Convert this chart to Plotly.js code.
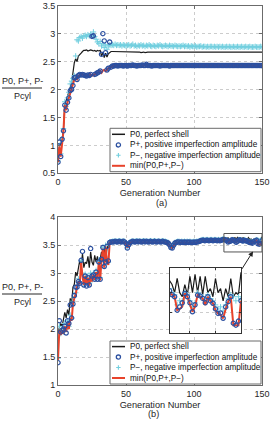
<!DOCTYPE html>
<html><head><meta charset="utf-8">
<script src="https://cdn.plot.ly/plotly-3.0.1.min.js"></script>
<style>html,body{margin:0;padding:0;background:#fff}#chart{width:271px;height:423px}</style>
</head><body><div id="chart"></div>
<script>
const generations = Array.from({length:151}, (_, i) => i);
const xTicks = [0, 50, 100, 150];
const yTicksA = [0.5, 1, 1.5, 2, 2.5, 3, 3.5];
const yTicksB = [1, 1.5, 2, 2.5, 3, 3.5, 4];
const seriesNames = ['P0, perfect shell', 'P+, positive imperfection amplitude', 'P\u2212, negative imperfection amplitude', 'min(P0,P+,P\u2212)'];
const panelLabels = ['(a)', '(b)'];
const xTitle = 'Generation Number';
const yLabelTop = 'P0, P+, P-';
const yLabelBottom = 'Pcyl';

// ---------- panel (a) ----------
const p0A = [
0.72,0.98,1.02,1.10,1.28,1.72,1.80,1.88,1.95,2.05,
2.12,2.30,2.48,2.55,2.50,2.60,2.62,2.65,2.68,2.70,
2.70,2.71,2.69,2.70,2.71,2.70,2.69,2.70,2.68,2.70,
2.69,2.70,2.60,2.66,2.57,2.65,2.58,2.64,2.67,2.68,
2.68,2.68,2.68,2.68,2.68,2.67,2.68,2.68,2.68,2.68,
2.68,2.68,2.68,2.68,2.68,2.68,2.67,2.68,2.68,2.68,
2.67,2.66,2.67,2.67,2.66,2.67,2.67,2.67,2.67,2.67,
2.67,2.67,2.67,2.67,2.66,2.67,2.67,2.67,2.67,2.67,
2.67,2.67,2.67,2.67,2.67,2.67,2.66,2.67,2.67,2.67,
2.67,2.67,2.67,2.67,2.67,2.67,2.67,2.67,2.67,2.67,
2.67,2.67,2.67,2.66,2.67,2.67,2.67,2.67,2.67,2.67,
2.67,2.67,2.67,2.67,2.67,2.67,2.67,2.66,2.67,2.67,
2.67,2.67,2.67,2.67,2.67,2.67,2.67,2.67,2.67,2.67,
2.67,2.67,2.67,2.67,2.67,2.67,2.67,2.67,2.67,2.67,
2.67,2.67,2.67,2.67,2.67,2.67,2.67,2.67,2.67,2.67,
2.67];
const pPlusA = [
0.70,1.06,0.80,1.11,1.26,1.72,1.63,1.77,1.85,1.98,
2.00,2.07,2.21,2.22,2.18,2.25,2.27,2.26,2.27,2.26,
2.25,2.24,2.26,2.25,2.27,2.95,2.96,2.27,2.28,2.30,
2.31,2.33,2.63,3.00,2.87,2.66,2.35,2.38,2.85,2.40,
2.42,2.42,2.43,2.43,2.42,2.43,2.43,2.43,2.42,2.43,
2.43,2.42,2.43,2.43,2.43,2.44,2.43,2.43,2.42,2.43,
2.43,2.43,2.44,2.43,2.43,2.45,2.43,2.43,2.43,2.42,
2.43,2.43,2.43,2.43,2.43,2.42,2.43,2.43,2.43,2.43,
2.43,2.43,2.42,2.43,2.43,2.43,2.43,2.43,2.43,2.43,
2.43,2.43,2.43,2.43,2.43,2.43,2.43,2.43,2.43,2.43,
2.43,2.43,2.43,2.43,2.43,2.43,2.43,2.43,2.43,2.43,
2.43,2.43,2.43,2.43,2.43,2.43,2.43,2.43,2.43,2.43,
2.43,2.43,2.43,2.43,2.43,2.43,2.43,2.43,2.43,2.43,
2.43,2.43,2.43,2.43,2.43,2.43,2.43,2.43,2.43,2.43,
2.43,2.43,2.43,2.43,2.43,2.43,2.43,2.43,2.43,2.43,
2.43];
const pMinusA = [
0.72,1.00,0.85,1.12,1.30,1.78,1.70,1.85,1.95,2.10,
2.15,2.20,2.25,2.60,2.89,2.87,2.93,2.95,2.92,2.96,
2.97,2.95,2.98,2.96,2.99,2.97,3.03,2.95,2.90,2.85,
2.82,2.86,2.78,2.82,2.75,2.80,2.72,2.78,2.80,2.79,
2.80,2.79,2.81,2.79,2.80,2.79,2.80,2.78,2.80,2.79,
2.78,2.79,2.80,2.78,2.79,2.81,2.78,2.79,2.77,2.79,
2.78,2.80,2.78,2.79,2.77,2.79,2.78,2.80,2.78,2.77,
2.79,2.78,2.77,2.79,2.78,2.80,2.78,2.77,2.78,2.79,
2.78,2.77,2.79,2.78,2.78,2.77,2.79,2.78,2.77,2.78,
2.77,2.78,2.79,2.77,2.78,2.77,2.78,2.76,2.78,2.77,
2.77,2.78,2.76,2.77,2.77,2.78,2.76,2.77,2.77,2.76,
2.77,2.76,2.77,2.77,2.76,2.77,2.76,2.77,2.76,2.77,
2.76,2.77,2.76,2.76,2.77,2.76,2.77,2.76,2.76,2.77,
2.76,2.76,2.77,2.76,2.76,2.77,2.76,2.76,2.77,2.76,
2.76,2.77,2.76,2.76,2.76,2.77,2.76,2.76,2.76,2.77,
2.76];
const pMinA = [
0.70,0.98,0.80,1.10,1.25,1.72,1.63,1.77,1.85,1.95,
2.00,2.07,2.18,2.20,2.18,2.24,2.26,2.26,2.27,2.26,
2.25,2.24,2.26,2.25,2.27,2.25,2.26,2.27,2.28,2.30,
2.31,2.33,2.30,2.34,2.35,2.33,2.35,2.38,2.40,2.40,
2.42,2.42,2.43,2.43,2.42,2.43,2.43,2.43,2.42,2.43,
2.43,2.42,2.43,2.43,2.43,2.44,2.43,2.43,2.42,2.43,
2.43,2.43,2.44,2.43,2.43,2.45,2.43,2.43,2.43,2.42,
2.43,2.43,2.43,2.43,2.43,2.42,2.43,2.43,2.43,2.43,
2.43,2.43,2.42,2.43,2.43,2.43,2.43,2.43,2.43,2.43,
2.43,2.43,2.43,2.43,2.43,2.43,2.43,2.43,2.43,2.43,
2.43,2.43,2.43,2.43,2.43,2.43,2.43,2.43,2.43,2.43,
2.43,2.43,2.43,2.43,2.43,2.43,2.43,2.43,2.43,2.43,
2.43,2.43,2.43,2.43,2.43,2.43,2.43,2.43,2.43,2.43,
2.43,2.43,2.43,2.43,2.43,2.43,2.43,2.43,2.43,2.43,
2.43,2.43,2.43,2.43,2.43,2.43,2.43,2.43,2.43,2.43,
2.43];

// ---------- panel (b) ----------
const p0B = [
1.95,2.05,2.10,2.05,2.15,2.30,2.20,2.35,2.25,2.55,
2.45,2.75,2.80,3.02,2.95,3.10,3.23,3.10,3.35,3.10,
3.20,3.17,3.30,3.10,3.38,3.20,3.14,3.32,3.20,3.30,
3.15,3.25,3.38,3.22,3.44,3.20,3.44,3.50,3.56,3.57,
3.57,3.57,3.57,3.56,3.57,3.57,3.57,3.56,3.57,3.57,
3.56,3.50,3.53,3.56,3.57,3.57,3.56,3.57,3.57,3.57,
3.57,3.57,3.56,3.57,3.57,3.57,3.57,3.56,3.57,3.57,
3.57,3.57,3.57,3.56,3.57,3.57,3.57,3.57,3.57,3.56,
3.56,3.55,3.53,3.50,3.48,3.52,3.55,3.56,3.56,3.57,
3.56,3.57,3.56,3.56,3.57,3.56,3.56,3.56,3.57,3.56,
3.56,3.57,3.56,3.57,3.58,3.59,3.60,3.60,3.60,3.60,
3.60,3.61,3.60,3.60,3.61,3.60,3.60,3.61,3.60,3.61,
3.61,3.60,3.63,3.62,3.60,3.635,3.60,3.59,3.62,3.595,
3.64,3.60,3.645,3.60,3.64,3.595,3.64,3.60,3.61,3.59,
3.635,3.60,3.61,3.58,3.61,3.59,3.635,3.59,3.60,3.595,
3.65];
const pPlusB = [
1.40,2.15,1.95,1.98,2.00,2.05,1.93,2.15,2.10,2.43,
2.20,2.45,2.60,2.75,2.75,2.85,2.82,3.23,3.39,2.79,
2.95,2.77,2.92,2.79,3.44,2.95,2.97,2.89,3.02,2.89,
3.20,2.89,3.25,3.46,3.12,3.20,3.48,3.22,3.55,3.56,
3.56,3.56,3.57,3.56,3.56,3.57,3.56,3.56,3.57,3.56,
3.53,3.45,3.51,3.55,3.56,3.57,3.56,3.56,3.57,3.56,
3.57,3.56,3.56,3.57,3.56,3.57,3.56,3.56,3.57,3.56,
3.56,3.57,3.56,3.56,3.57,3.56,3.56,3.57,3.56,3.56,
3.55,3.54,3.51,3.46,3.45,3.50,3.54,3.55,3.56,3.56,
3.55,3.56,3.55,3.56,3.55,3.56,3.55,3.56,3.55,3.55,
3.56,3.55,3.56,3.56,3.57,3.58,3.59,3.59,3.58,3.59,
3.59,3.58,3.59,3.59,3.58,3.59,3.59,3.58,3.59,3.58,
3.59,3.60,3.605,3.595,3.59,3.557,3.565,3.575,3.598,3.59,
3.575,3.553,3.57,3.594,3.592,3.586,3.575,3.59,3.58,3.574,
3.56,3.549,3.55,3.537,3.565,3.578,3.59,3.525,3.52,3.53,
3.58];
const pMinusB = [
1.48,2.05,1.92,2.00,1.95,2.10,2.00,2.15,2.05,2.25,
2.20,2.50,2.58,2.65,2.78,2.90,2.85,3.22,3.00,2.82,
2.98,2.85,2.95,2.82,3.00,2.88,3.00,2.92,3.05,2.95,
3.22,2.92,3.28,3.46,3.15,3.50,3.25,3.20,3.56,3.56,
3.57,3.57,3.57,3.57,3.57,3.58,3.57,3.57,3.57,3.57,
3.54,3.47,3.52,3.56,3.57,3.57,3.57,3.57,3.58,3.57,
3.57,3.57,3.57,3.58,3.57,3.57,3.57,3.57,3.58,3.57,
3.57,3.58,3.57,3.57,3.57,3.57,3.57,3.58,3.57,3.57,
3.56,3.55,3.52,3.48,3.47,3.51,3.55,3.56,3.57,3.57,
3.56,3.57,3.56,3.57,3.56,3.57,3.56,3.57,3.56,3.56,
3.57,3.56,3.57,3.57,3.58,3.59,3.60,3.60,3.59,3.60,
3.60,3.59,3.60,3.60,3.59,3.60,3.60,3.59,3.60,3.59,
3.60,3.61,3.61,3.60,3.595,3.57,3.58,3.58,3.60,3.595,
3.58,3.565,3.575,3.60,3.595,3.59,3.58,3.595,3.585,3.58,
3.57,3.56,3.565,3.555,3.57,3.585,3.595,3.59,3.58,3.59,
3.585];
const pMinB = [
1.45,2.00,1.90,1.95,1.92,2.05,1.95,2.10,2.00,2.20,
2.15,2.45,2.55,2.62,2.75,2.85,2.80,3.20,2.95,2.79,
2.95,2.80,2.92,2.78,2.95,2.85,2.97,2.88,3.02,2.90,
3.20,2.87,3.25,3.44,3.10,3.48,3.20,3.15,3.55,3.55,
3.56,3.55,3.56,3.55,3.55,3.56,3.55,3.55,3.56,3.55,
3.52,3.46,3.50,3.54,3.55,3.56,3.55,3.55,3.56,3.55,
3.56,3.55,3.55,3.56,3.55,3.56,3.55,3.55,3.56,3.55,
3.55,3.56,3.55,3.55,3.56,3.55,3.55,3.56,3.55,3.55,
3.54,3.53,3.50,3.47,3.45,3.49,3.53,3.54,3.55,3.55,
3.54,3.55,3.54,3.55,3.54,3.55,3.54,3.55,3.54,3.54,
3.55,3.54,3.55,3.55,3.56,3.57,3.58,3.58,3.57,3.58,
3.58,3.57,3.58,3.58,3.57,3.58,3.58,3.57,3.58,3.57,
3.58,3.59,3.598,3.595,3.59,3.557,3.56,3.566,3.598,3.59,
3.57,3.553,3.566,3.594,3.59,3.586,3.57,3.59,3.58,3.574,
3.557,3.549,3.545,3.537,3.56,3.578,3.59,3.52,3.52,3.52,
3.58];
const insetRangeX = [122, 150];
const insetRangeY = [3.50, 3.66];

const FONT = 'Liberation Sans, Arial, sans-serif';
const W = 271, H = 423;
const px = v => v / W;
const py = v => 1 - v / H;
const C_BLACK = '#1a1a1a', C_RED = '#e8432b', C_BLUE = '#2c50a0', C_CYAN = '#72cfdf';

function panelTraces(xa, ya, p0, pp, pm, mn) {
  return [
    {x: generations, y: p0, xaxis: xa, yaxis: ya, mode: 'lines', name: seriesNames[0], line: {color: C_BLACK, width: 1.2}},
    {x: generations, y: pm, xaxis: xa, yaxis: ya, mode: 'markers', name: seriesNames[2], marker: {symbol: 'cross-thin', size: 4, color: C_CYAN, line: {width: 1, color: C_CYAN}}},
    {x: generations, y: mn, xaxis: xa, yaxis: ya, mode: 'lines', name: seriesNames[3], line: {color: C_RED, width: 2}},
    {x: generations, y: pp, xaxis: xa, yaxis: ya, mode: 'markers', name: seriesNames[1], marker: {symbol: 'circle-open', size: 4.3, color: C_BLUE, line: {width: 1.2, color: C_BLUE}}}
  ];
}
const traces = [].concat(
  panelTraces('x', 'y', p0A, pPlusA, pMinusA, pMinA),
  panelTraces('x2', 'y2', p0B, pPlusB, pMinusB, pMinB),
  panelTraces('x3', 'y3', p0B, pPlusB, pMinusB, pMinB)
);

const axCommon = {
  showline: true, linecolor: '#6b6b6b', linewidth: 1, mirror: 'ticks',
  ticks: 'inside', ticklen: 3, tickcolor: '#6b6b6b',
  showgrid: true, gridcolor: '#cccccc', griddash: 'dot', gridwidth: 1,
  zeroline: false, fixedrange: true,
  tickfont: {family: FONT, size: 9, color: '#262626'}
};
const xDom = [px(58), px(262)];

const shapes = [];
const annotations = [];

function addLegend(top, bottom, rows) {
  shapes.push({type: 'rect', xref: 'paper', yref: 'paper', x0: px(110), x1: px(261), y0: py(bottom), y1: py(top),
    line: {color: '#6b6b6b', width: 1}, fillcolor: 'white', layer: 'above'});
  shapes.push({type: 'line', xref: 'paper', yref: 'paper', x0: px(112), x1: px(125), y0: py(rows[0]), y1: py(rows[0]), line: {color: C_BLACK, width: 1.5}});
  shapes.push({type: 'circle', xref: 'paper', yref: 'paper', x0: px(116.3), x1: px(120.5), y0: py(rows[1] + 2.1), y1: py(rows[1] - 2.1), line: {color: C_BLUE, width: 1.3}});
  const cx = 118.4, cy = rows[2];
  shapes.push({type: 'path', xref: 'paper', yref: 'paper',
    path: `M${px(cx - 2.2)},${py(cy)} L${px(cx + 2.2)},${py(cy)} M${px(cx)},${py(cy - 2.2)} L${px(cx)},${py(cy + 2.2)}`,
    line: {color: C_CYAN, width: 1.1}});
  shapes.push({type: 'line', xref: 'paper', yref: 'paper', x0: px(112), x1: px(125), y0: py(rows[3]), y1: py(rows[3]), line: {color: C_RED, width: 2}});
  [0, 1, 2, 3].forEach((k, i) => annotations.push({xref: 'paper', yref: 'paper', x: px(127.5), y: py(rows[i]), xanchor: 'left', yanchor: 'middle',
    text: seriesNames[k], showarrow: false, font: {family: FONT, size: 8.2, color: '#111'}}));
}
addLegend(128.3, 171.7, [134.3, 144.9, 155.3, 165.8]);
addLegend(341, 384, [346.6, 357.1, 367.5, 378]);

function addYLabel(yTop, yLine, yBot) {
  annotations.push({xref: 'paper', yref: 'paper', x: px(22), y: py(yTop), xanchor: 'center', yanchor: 'middle', text: yLabelTop, showarrow: false, font: {family: FONT, size: 9, color: '#262626'}});
  annotations.push({xref: 'paper', yref: 'paper', x: px(22), y: py(yBot), xanchor: 'center', yanchor: 'middle', text: yLabelBottom, showarrow: false, font: {family: FONT, size: 9, color: '#262626'}});
  shapes.push({type: 'line', xref: 'paper', yref: 'paper', x0: px(2), x1: px(42), y0: py(yLine), y1: py(yLine), line: {color: '#262626', width: 1}});
}
addYLabel(81, 88, 96.5);
addYLabel(286.7, 294, 302);

annotations.push({xref: 'paper', yref: 'paper', x: px(161.5), y: py(202.8), xanchor: 'center', yanchor: 'middle', text: panelLabels[0], showarrow: false, font: {family: FONT, size: 9.2, color: '#262626'}});
annotations.push({xref: 'paper', yref: 'paper', x: px(153.5), y: py(414.3), xanchor: 'center', yanchor: 'middle', text: panelLabels[1], showarrow: false, font: {family: FONT, size: 9.2, color: '#262626'}});

shapes.push({type: 'rect', xref: 'x2', yref: 'y2', x0: insetRangeX[0], x1: insetRangeX[1], y0: 3.38, y1: 3.71, line: {color: '#555', width: 1}});
annotations.push({xref: 'x2', yref: 'y2', x: 143.4, y: 3.39, ax: -12, ay: 19, text: '', showarrow: true, arrowhead: 2, arrowsize: 1, arrowwidth: 1, arrowcolor: '#222'});

const layout = {
  width: W, height: H, margin: {l: 0, r: 0, t: 0, b: 0},
  paper_bgcolor: 'white', plot_bgcolor: 'white', showlegend: false,
  font: {family: FONT, size: 9, color: '#262626'},
  xaxis: Object.assign({}, axCommon, {domain: xDom, anchor: 'y', range: [0, 150], tickvals: xTicks,
    title: {text: xTitle, font: {family: FONT, size: 9.2, color: '#262626'}, standoff: 3}}),
  yaxis: Object.assign({}, axCommon, {domain: [py(173.3), py(5.7)], anchor: 'x', range: [0.5, 3.5], tickvals: yTicksA}),
  xaxis2: Object.assign({}, axCommon, {domain: xDom, anchor: 'y2', range: [0, 150], tickvals: xTicks,
    title: {text: xTitle, font: {family: FONT, size: 9.2, color: '#262626'}, standoff: 3}}),
  yaxis2: Object.assign({}, axCommon, {domain: [py(385), py(217.3)], anchor: 'x2', range: [1, 4], tickvals: yTicksB}),
  xaxis3: Object.assign({}, axCommon, {domain: [px(169.5), px(241)], anchor: 'y3', range: insetRangeX, tickvals: [130, 140],
    showticklabels: false, ticklen: 2, linecolor: '#333', tickcolor: '#333'}),
  yaxis3: Object.assign({}, axCommon, {domain: [py(333.3), py(268.3)], anchor: 'x3', range: insetRangeY, tickvals: [3.55, 3.6],
    showticklabels: false, ticklen: 2, linecolor: '#333', tickcolor: '#333'}),
  shapes: shapes,
  annotations: annotations
};

Plotly.newPlot('chart', traces, layout, {staticPlot: true, displayModeBar: false});
</script>
</body></html>
